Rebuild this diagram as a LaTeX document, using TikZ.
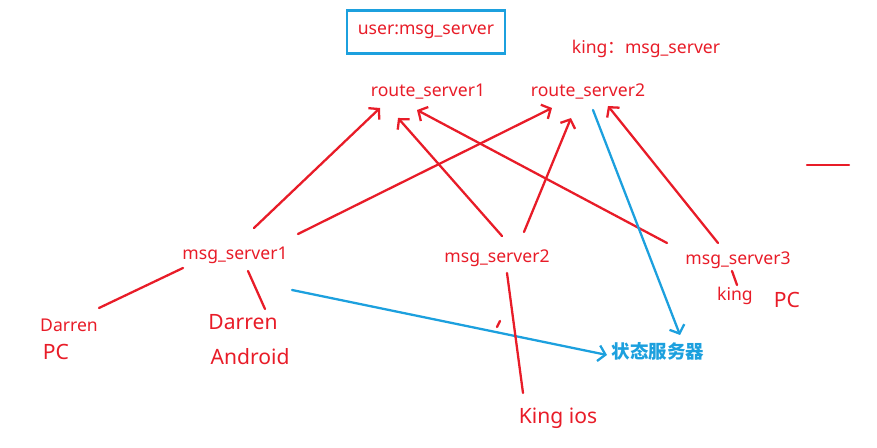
\documentclass[tikz,border=0pt]{standalone}
\usepackage{fontspec}
\setmainfont{Noto Sans}
\newfontfamily\cjk{Noto Sans CJK SC}
\usepackage{tikz}
\usetikzlibrary{arrows.meta,calc}
\definecolor{inkred}{RGB}{232,28,40}
\definecolor{inkblue}{RGB}{28,160,222}
\tikzset{
  small label/.style={
    text=inkred,
    inner sep=1pt,
    font=\fontsize{10}{12}\selectfont
  },
  big label/.style={
    small label,
    font=\fontsize{12}{14}\selectfont
  },
  red line/.style={
    draw=inkred,
    line width=1.3pt,
    line cap=round
  },
  red arrow/.style={
    red line,
    -{Straight Barb[length=4pt,width=9pt,line width=1.3pt]}
  },
  blue arrow/.style={
    red arrow,
    draw=inkblue
  }
}

\begin{document}
\begin{tikzpicture}[x=0.02cm, y=-0.02cm]
  \useasboundingbox (0,0) rectangle (877,448);

  % Notes on top
  \node[small label, draw=inkblue, line width=1.3pt, minimum width=158*0.02cm,
        minimum height=43*0.02cm] (user) at (426,32) {user:msg\_server};
  \node[small label] (kingms) at (646,49) {king{\cjk ：}msg\_server};

  % Route servers
  \node[small label] (rs1) at (428,92) {route\_server1};
  \node[small label] (rs2) at (588,92) {route\_server2};

  % Msg servers
  \node[small label] (ms1) at (235,255) {msg\_server1};
  \node[small label] (ms2) at (497,258) {msg\_server2};
  \node[small label] (ms3) at (738,260) {msg\_server3};

  % Clients
  \node[small label] (darren1) at (69,325) {Darren};
  \node[big label] (pc1) at (56,352) {PC};
  \node[big label] (darren2) at (243,322) {Darren};
  \node[big label] (android) at (250,357) {Android};
  \node[big label] (kingios) at (558,418) {King ios};
  \node[small label] (king) at (735,296) {king};
  \node[big label] (pc3) at (787,300) {PC};

  % State server
  \node[text=inkblue, inner sep=1pt, font=\cjk\bfseries\fontsize{10.5}{12}\selectfont]
        (state) at (658,351) {状态服务器};

  % Msg servers -> route servers
  \draw[red arrow] ($(ms1)+(19,-27)$) -- ($(rs1)+(-48,16)$);
  \draw[red arrow] ($(ms1)+(63,-21)$) -- ($(rs2)+(-36,16)$);
  \draw[red arrow] ($(ms2)+(5,-22)$) -- ($(rs1)+(-30,26)$);
  \draw[red arrow] ($(ms2)+(27,-26)$) -- ($(rs2)+(-17,26)$);
  \draw[red arrow] ($(ms3)+(-71,-17)$) -- ($(rs1)+(-11,18)$);
  \draw[red arrow] ($(ms3)+(-20,-17)$) -- ($(rs2)+(20,14)$);

  % To the state server
  \draw[blue arrow] ($(rs2)+(5,18)$) -- ($(state)+(22,-16)$);
  \draw[blue arrow] ($(ms1)+(57,35)$) -- ($(state)+(-51,4)$);

  % Clients
  \draw[red line] ($(ms1)+(-52,13)$) -- ($(darren1)+(30,-17)$);
  \draw[red line] ($(ms1)+(13,16)$) -- ($(darren2)+(22,-13)$);
  \draw[red line] ($(ms2)+(10,15)$) -- ($(kingios)+(-35,-25)$);
  \draw[red line] ($(ms3)+(-6,11)$) -- ($(king)+(2,-11)$);

  % Stray marks
  \draw[red line] (807,165) -- (849,165);
  \draw[red line] (497,327) -- (500,321);
\end{tikzpicture}
\end{document}
